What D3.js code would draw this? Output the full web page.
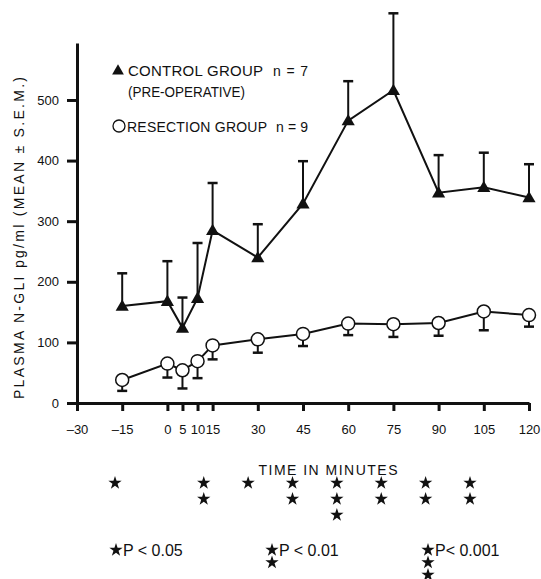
<!DOCTYPE html>
<html>
<head>
<meta charset="utf-8">
<script src="https://cdn.jsdelivr.net/npm/d3@7"></script>
<style>
  body { margin: 0; background: #fff; }
  text { font-family: "Liberation Sans", Arial, sans-serif; fill: #111; }
</style>
</head>
<body>
<div id="chart"></div>
<script>
// data
const times = [-15, 0, 5, 10, 15, 30, 45, 60, 75, 90, 105, 120];
const controlMean = [160, 168, 124, 173, 285, 240, 329, 466, 516, 347, 356, 339];
const controlTop = [214, 234, 174, 264, 363, 295, 399, 531, 643, 409, 413, 394];
const resectMean = [38, 65, 54, 69, 95, 105, 114, 131, 130, 132, 151, 145];
const resectBottom = [20, 42, 24, 41, 72, 83, 94, 112, 109, 111, 120, 126];
const xTicks = [-30, -15, 0, 5, 10, 15, 30, 45, 60, 75, 90, 105, 120];
const yTicks = [0, 100, 200, 300, 400, 500];
const starTimes = [-15, 15, 30, 45, 60, 75, 90, 105];
const starCounts = [1, 2, 1, 2, 3, 2, 2, 2];
const pLegend = [
  { label: "P < 0.05", n: 1, pos: 0 },
  { label: "P < 0.01", n: 2, pos: 1 },
  { label: "P< 0.001", n: 3, pos: 2 }
];

const width = 541, height = 579;

let svg = d3.select("#chart")
    .append("svg")
    .attr("width", width)
    .attr("height", height);

let x = d3.scaleLinear().domain([-30, 120]).range([77, 529]);
let y = d3.scaleLinear().domain([0, 594]).range([403, 43]);

// x axis
let xAxis = svg.append("g")
    .attr("transform", `translate(0, ${y(0)})`)
    .call(d3.axisBottom(x).tickValues(xTicks).tickSize(8).tickPadding(14).tickSizeOuter(0)
        .tickFormat(d => d < 0 ? "\u2013" + Math.abs(d) : d));
xAxis.select(".domain").attr("stroke", "#111").attr("stroke-width", 3);
xAxis.selectAll(".tick line").attr("stroke", "#111").attr("stroke-width", 3);
xAxis.selectAll(".tick text").style("font-size", "13px").attr("fill", "#111");

// y axis
let yAxis = svg.append("g")
    .attr("transform", `translate(${x(-30)}, 0)`)
    .call(d3.axisLeft(y).tickValues(yTicks).tickSize(10).tickPadding(8).tickSizeOuter(0));
yAxis.select(".domain").attr("stroke", "#111").attr("stroke-width", 3);
yAxis.selectAll(".tick line").attr("stroke", "#111").attr("stroke-width", 3);
yAxis.selectAll(".tick text").style("font-size", "13px").attr("fill", "#111");

// axis labels
svg.append("text")
    .attr("x", 328).attr("y", 475)
    .style("text-anchor", "middle")
    .style("font-size", "14px")
    .attr("textLength", 139).attr("lengthAdjust", "spacing")
    .text("TIME IN MINUTES");

svg.append("text")
    .attr("transform", `translate(24, 238) rotate(-90)`)
    .style("text-anchor", "middle")
    .style("font-size", "14px")
    .attr("textLength", 322).attr("lengthAdjust", "spacing")
    .text("PLASMA N-GLI pg/ml (MEAN \u00B1 S.E.M.)");

const control = times.map((t, i) => ({ t: t, m: controlMean[i], e: controlTop[i] }));
const resect = times.map((t, i) => ({ t: t, m: resectMean[i], e: resectBottom[i] }));

// error bars
let eb = svg.append("g").attr("stroke", "#111");
eb.selectAll(".cerr").data(control).enter().append("line")
    .attr("x1", d => x(d.t)).attr("x2", d => x(d.t))
    .attr("y1", d => y(d.m)).attr("y2", d => y(d.e))
    .attr("stroke-width", 2);
eb.selectAll(".ccap").data(control).enter().append("line")
    .attr("x1", d => x(d.t) - 5).attr("x2", d => x(d.t) + 5)
    .attr("y1", d => y(d.e)).attr("y2", d => y(d.e))
    .attr("stroke-width", 2.5);
eb.selectAll(".rerr").data(resect).enter().append("line")
    .attr("x1", d => x(d.t)).attr("x2", d => x(d.t))
    .attr("y1", d => y(d.m)).attr("y2", d => y(d.e))
    .attr("stroke-width", 2);
eb.selectAll(".rcap").data(resect).enter().append("line")
    .attr("x1", d => x(d.t) - 5).attr("x2", d => x(d.t) + 5)
    .attr("y1", d => y(d.e)).attr("y2", d => y(d.e))
    .attr("stroke-width", 2.5);

// lines
let line = d3.line().x(d => x(d.t)).y(d => y(d.m));
svg.append("path").datum(control)
    .attr("fill", "none").attr("stroke", "#111").attr("stroke-width", 2)
    .attr("d", line);
svg.append("path").datum(resect)
    .attr("fill", "none").attr("stroke", "#111").attr("stroke-width", 2)
    .attr("d", line);

// markers
let tri = d3.symbol().type(d3.symbolTriangle).size(75);
svg.selectAll(".tri").data(control).enter().append("path")
    .attr("d", tri)
    .attr("transform", d => `translate(${x(d.t)}, ${y(d.m) + 1})`)
    .attr("fill", "#111");
svg.selectAll(".circ").data(resect).enter().append("circle")
    .attr("cx", d => x(d.t)).attr("cy", d => y(d.m)).attr("r", 6.5)
    .attr("fill", "#fff").attr("stroke", "#111").attr("stroke-width", 1.5);

// legend
svg.append("path").attr("d", d3.symbol().type(d3.symbolTriangle).size(60))
    .attr("transform", "translate(118, 71)").attr("fill", "#111");
svg.append("text").attr("x", 128).attr("y", 76).style("font-size", "15px")
    .attr("textLength", 135).attr("lengthAdjust", "spacing").text("CONTROL GROUP");
svg.append("text").attr("x", 273).attr("y", 76).style("font-size", "14px")
    .attr("textLength", 35).attr("lengthAdjust", "spacing").text("n = 7");
svg.append("text").attr("x", 128).attr("y", 97).style("font-size", "15px")
    .attr("textLength", 117).attr("lengthAdjust", "spacingAndGlyphs").text("(PRE-OPERATIVE)");
svg.append("circle").attr("cx", 119).attr("cy", 126).attr("r", 6)
    .attr("fill", "#fff").attr("stroke", "#111").attr("stroke-width", 1.3);
svg.append("text").attr("x", 127).attr("y", 132).style("font-size", "14px")
    .attr("textLength", 140).attr("lengthAdjust", "spacing").text("RESECTION GROUP");
svg.append("text").attr("x", 276).attr("y", 132).style("font-size", "14px")
    .attr("textLength", 32).attr("lengthAdjust", "spacing").text("n = 9");

// significance stars
let starX = d3.scaleLinear().domain([-15, 105]).range([115, 470]);
let star = d3.symbol().type(d3.symbolStar).size(55);
let starRows = [];
starTimes.forEach((t, i) => {
    for (let k = 0; k < starCounts[i]; k++) starRows.push({ t: t, k: k });
});
svg.selectAll(".star").data(starRows).enter().append("path")
    .attr("d", star)
    .attr("transform", d => `translate(${starX(d.t)}, ${483 + d.k * 16})`)
    .attr("fill", "#111");

// p-value key
let keyX = d3.scaleLinear().domain([0, 2]).range([116, 428]);
pLegend.forEach(p => {
    for (let k = 0; k < p.n; k++) {
        svg.append("path").attr("d", star)
            .attr("transform", `translate(${keyX(p.pos)}, ${550 + k * 12.5})`)
            .attr("fill", "#111");
    }
    svg.append("text")
        .attr("x", keyX(p.pos) + 7).attr("y", 556)
        .style("font-size", "16px")
        .text(p.label);
});
</script>
</body>
</html>
